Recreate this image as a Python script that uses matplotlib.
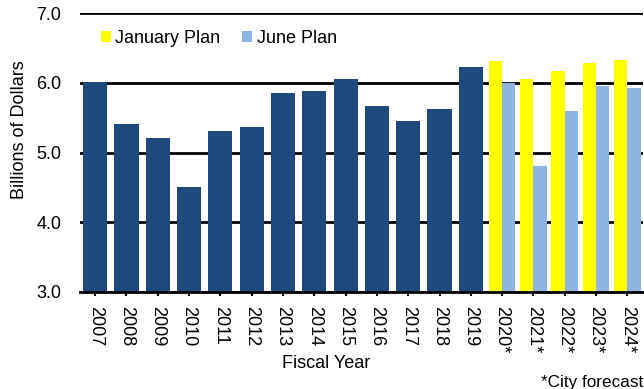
import numpy as np
import matplotlib
matplotlib.use("Agg")
import matplotlib.pyplot as plt

plt.rcParams['font.family'] = ['Liberation Sans', 'DejaVu Sans']

years = ["2007", "2008", "2009", "2010", "2011", "2012", "2013",
         "2014", "2015", "2016", "2017", "2018", "2019"]
actual = [6.02, 5.41, 5.21, 4.51, 5.31, 5.37, 5.86,
          5.89, 6.06, 5.67, 5.45, 5.63, 6.23]

plan_years = ["2020*", "2021*", "2022*", "2023*", "2024*"]
january_plan = [6.31, 6.06, 6.17, 6.29, 6.33]
june_plan = [6.00, 4.81, 5.60, 5.95, 5.93]

navy = "#1F497D"
yellow = "#FFFF00"
light_blue = "#8DB4E2"
fs = 13

fig = plt.figure(figsize=(6.44, 3.89), dpi=100)
ax = fig.add_axes([79.5 / 644, 1 - 292 / 389, (643 - 79.5) / 644, (292 - 13.3) / 389])

x_hist = np.arange(len(years))
x_plan = np.arange(len(years), len(years) + len(plan_years))

ax.bar(x_hist, actual, width=0.77, color=navy, zorder=3)
w = 0.425
ax.bar(x_plan - w / 2, january_plan, width=w, color=yellow, zorder=3, label="January Plan")
ax.bar(x_plan + w / 2, june_plan, width=w, color=light_blue, zorder=3, label="June Plan")

ax.set_ylim(3.0, 7.0)
ax.set_xlim(-0.5, len(years) + len(plan_years) - 0.5)
ax.set_yticks([3.0, 4.0, 5.0, 6.0, 7.0])
ax.set_yticklabels(["3.0", "4.0", "5.0", "6.0", "7.0"], fontsize=fs)
ax.tick_params(axis="y", length=0, pad=13)
ax.grid(axis="y", color="black", linewidth=2, zorder=1)
ax.set_axisbelow(True)

ax.set_xticks(np.concatenate([x_hist, x_plan]))
ax.set_xticklabels(years + plan_years, rotation=270, fontsize=fs)
ax.tick_params(axis="x", direction="out", length=3, width=1.5, pad=7)

for side in ["left", "right", "top"]:
    ax.spines[side].set_visible(False)
ax.spines["bottom"].set_linewidth(2)
ax.spines["bottom"].set_zorder(4)

fig.text(20 / 644, 1 - 130 / 389, "Billions of Dollars", rotation=90,
         ha="center", va="center", fontsize=fs)
fig.text(326 / 644, 1 - 364 / 389, "Fiscal Year", ha="center", va="center", fontsize=fs)
fig.text(643 / 644, 1 - 382 / 389, "*City forecast", ha="right", va="center", fontsize=12.3)

ax.legend(loc="center left", bbox_to_anchor=(0.038, 0.911), ncol=2, frameon=False,
          fontsize=fs, handlelength=0.55, handleheight=0.55, handletextpad=0.25,
          columnspacing=1.2, borderaxespad=0, borderpad=0)

fig.savefig("out.png", dpi=100)
